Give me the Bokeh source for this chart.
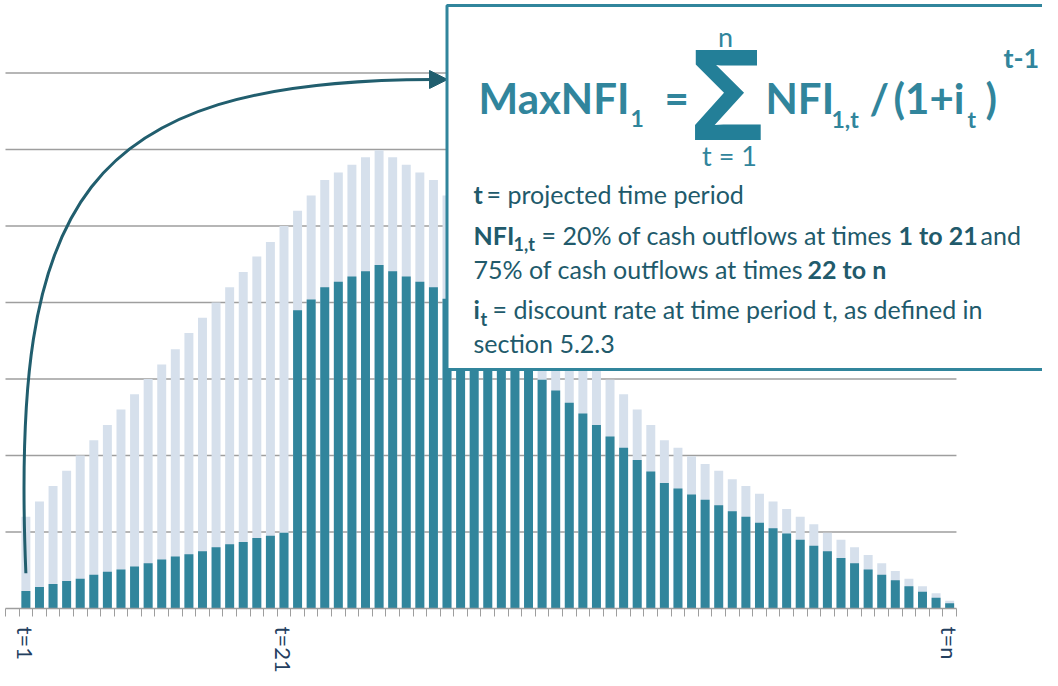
import numpy as np
from bokeh.plotting import figure
from bokeh.models import Range1d, FixedTicker, BoxAnnotation, Label, Arrow, NormalHead
from bokeh.embed import file_html
from bokeh.resources import INLINE

# ---------------- data ----------------
periods = list(range(1, 70))
total_outflows = [
    1.20, 1.40, 1.60, 1.80, 2.00, 2.20, 2.40, 2.60, 2.80, 3.00,
    3.19, 3.39, 3.60, 3.80, 4.00, 4.20, 4.40, 4.60, 4.79, 5.00,
    5.20, 5.40, 5.60, 5.70, 5.80, 5.90, 5.99, 5.90, 5.80, 5.70,
    5.60, 5.40, 5.20, 5.00, 4.80, 4.60, 4.40, 4.20, 4.00, 3.80,
    3.60, 3.40, 3.20, 2.99, 2.80, 2.60, 2.40, 2.20, 2.10, 1.99,
    1.89, 1.80, 1.69, 1.60, 1.50, 1.40, 1.30, 1.20, 1.10, 0.99,
    0.90, 0.80, 0.70, 0.59, 0.49, 0.39, 0.29, 0.20, 0.10,
]
nfi = [
    0.23, 0.28, 0.32, 0.36, 0.39, 0.44, 0.48, 0.51, 0.55, 0.59,
    0.64, 0.68, 0.71, 0.75, 0.80, 0.84, 0.87, 0.92, 0.95, 0.99,
    3.90, 4.04, 4.20, 4.27, 4.34, 4.41, 4.49, 4.41, 4.34, 4.27,
    4.20, 4.05, 3.90, 3.75, 3.60, 3.45, 3.30, 3.15, 2.99, 2.85,
    2.69, 2.55, 2.40, 2.25, 2.10, 1.94, 1.79, 1.64, 1.57, 1.49,
    1.42, 1.35, 1.27, 1.20, 1.12, 1.05, 0.98, 0.90, 0.82, 0.75,
    0.66, 0.59, 0.51, 0.44, 0.37, 0.29, 0.22, 0.14, 0.07,
]
tick_labels = {1: "t=1", 20: "t=21", 69: "t=n"}
grid_levels = [1, 2, 3, 4, 5, 6, 7]

# ---------------- layout helpers ----------------
FRAME_W, FRAME_H = 1042, 608
SLOT_PX = 13.585     # pixels per period
UNIT_PX = 76.5       # pixels per grid unit
axis_lo = periods[0] - 1.5
axis_hi = periods[-1] + 0.5
X_START = axis_lo - 5 / SLOT_PX


def dx(px):
    return X_START + px / SLOT_PX


def dy(py):
    return (FRAME_H - py) / UNIT_PX


LIGHT = "#D6E0EC"
DARK = "#31859C"
GRID = "#9E9E9E"
FORM = "#31859C"
BODY = "#215A6B"
NAVY = "#24405F"
ARROW = "#215E6E"

p = figure(
    frame_width=FRAME_W, frame_height=FRAME_H,
    x_range=Range1d(X_START, X_START + FRAME_W / SLOT_PX),
    y_range=Range1d(0, FRAME_H / UNIT_PX),
    output_backend="svg", toolbar_location=None,
    y_axis_location=None, min_border=0,
    min_border_left=0, min_border_right=0, min_border_top=0,
    outline_line_color=None, background_fill_color="white",
)
p.grid.visible = False

# gridlines
p.segment(x0=[axis_lo] * len(grid_levels), y0=grid_levels,
          x1=[axis_hi] * len(grid_levels), y1=grid_levels,
          line_color=GRID, line_width=1.5)

# bars
p.vbar(x=periods, top=total_outflows, width=0.66, fill_color=LIGHT, line_color=None)
p.vbar(x=periods, top=nfi, width=0.66, fill_color=DARK, line_color=None)

# x axis
xa = p.xaxis[0]
xa.ticker = FixedTicker(ticks=list(tick_labels.keys()),
                        minor_ticks=[axis_lo + i for i in range(len(periods) + 2)])
xa.major_label_overrides = tick_labels
xa.major_label_orientation = -np.pi / 2
xa.bounds = (axis_lo, axis_hi)
xa.axis_line_color = GRID
xa.axis_line_width = 1.5
xa.major_tick_line_color = None
xa.major_tick_out = 0
xa.major_tick_in = 0
xa.minor_tick_out = 8
xa.minor_tick_in = 0
xa.minor_tick_line_color = GRID
xa.minor_tick_line_width = 1
xa.major_label_standoff = 10
xa.major_label_text_font = "Lato"
xa.major_label_text_font_size = "22px"
xa.major_label_text_color = NAVY

# curved arrow from t=1 to the formula box
bx0, by0 = periods[0], nfi[0] * 2
p.bezier(x0=[bx0], y0=[by0], x1=[dx(432)], y1=[dy(79)],
         cx0=[dx(10)], cy0=[dy(200)], cx1=[dx(80)], cy1=[dy(80)],
         line_color=ARROW, line_width=3)
p.add_layout(Arrow(end=NormalHead(size=18, fill_color=ARROW, line_color=ARROW),
                   x_start=dx(430), y_start=dy(79), x_end=dx(447), y_end=dy(79),
                   line_color=ARROW, line_width=3))

# formula box
p.add_layout(BoxAnnotation(left=dx(446.5), right=dx(1070), top=dy(5), bottom=dy(369),
                           fill_color="white", fill_alpha=1.0,
                           line_color=DARK, line_width=3, line_alpha=1.0))


def lab(text, X, Y, size, bold=False, color=BODY, align="left", font="Lato"):
    """X = left (or centre) in px, Y = text baseline in px."""
    p.add_layout(Label(x=dx(X), y=dy(Y - 0.39 * size), text=text, text_font=font,
                       text_font_size=f"{size}px",
                       text_font_style="bold" if bold else "normal",
                       text_color=color, text_align=align, text_baseline="alphabetic"))


# formula
lab("MaxNFI", 478, 114, 42, True, FORM)
lab("1", 630, 127, 23, True, FORM)
lab("=", 664, 114, 42, True, FORM)
lab("\u03A3", 727, 140, 126, True, "#237F98", "center", "Open Sans")
lab("n", 725, 47, 27, False, FORM, "center")
lab("t = 1", 729, 166, 27, False, FORM, "center")
lab("NFI", 765, 114, 42, True, FORM)
lab("1,t", 831, 127, 23, True, FORM)
lab("/", 869, 114, 42, True, FORM)
lab("(1+i", 893, 114, 42, True, FORM)
lab("t", 967, 127, 23, True, FORM)
lab(")", 985, 114, 42, True, FORM)
lab("t-1", 1003, 68, 27, True, FORM)

# definitions
FS = 25
lab("t", 473, 203, FS, True)
lab("= projected time period", 486, 203, FS)
lab("NFI", 473, 244, FS, True)
lab("1,t", 513, 251, 18, True)
lab("= 20% of cash outflows at times", 541, 244, FS)
lab("1 to 21", 898, 244, FS, True)
lab("and", 980, 244, FS)
lab("75% of cash outflows at times", 473, 278, FS)
lab("22 to n", 807, 278, FS, True)
lab("i", 473, 318, FS, True)
lab("t", 480, 326, 18, True)
lab("= discount rate at time period t, as defined in", 492, 318, FS)
lab("section 5.2.3", 473, 352, FS)

open("out.html", "w").write(file_html(p, INLINE))
